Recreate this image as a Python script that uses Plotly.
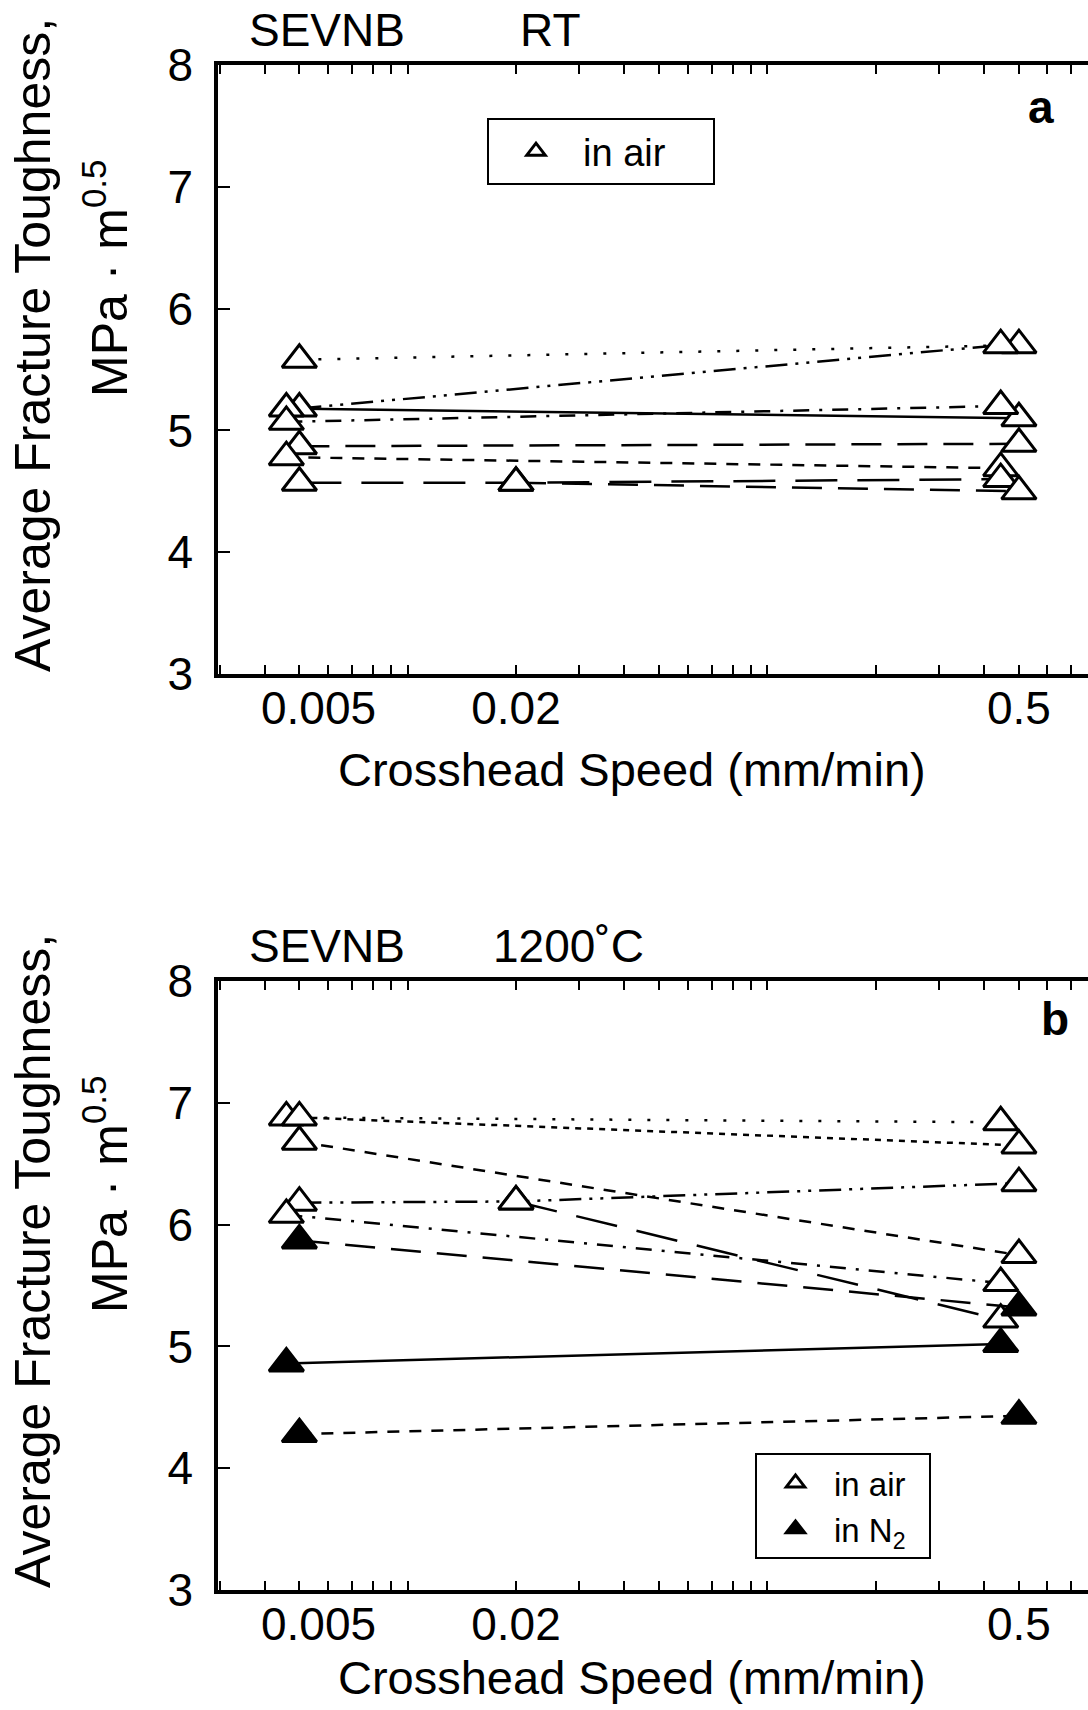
import math
import plotly.graph_objects as go

# ---------------- data ----------------
# Panel a : SEVNB, RT, in air (open triangles)
a1_x = [0.005, 0.5];            a1_y = [5.58, 5.70]
a2_x = [0.005, 0.445];          a2_y = [5.18, 5.70]
a3_x = [0.0046, 0.5];           a3_y = [5.18, 5.10]
a4_x = [0.0046, 0.445];         a4_y = [5.07, 5.20]
a5_x = [0.005, 0.5];            a5_y = [4.87, 4.89]
a6_x = [0.0046, 0.445];         a6_y = [4.78, 4.69]
a7_x = [0.005, 0.02, 0.445];    a7_y = [4.57, 4.57, 4.60]
a8_x = [0.02, 0.5];             a8_y = [4.57, 4.50]

# Panel b : SEVNB, 1200 C, in air (open) and in N2 (filled)
b1_x = [0.0046, 0.445];         b1_y = [6.88, 6.84]
b2_x = [0.005, 0.5];            b2_y = [6.88, 6.65]
b3_x = [0.005, 0.5];            b3_y = [6.68, 5.75]
b4_x = [0.005, 0.02, 0.5];      b4_y = [6.18, 6.19, 6.34]
b5_x = [0.02, 0.445];           b5_y = [6.19, 5.22]
b6_x = [0.0046, 0.445];         b6_y = [6.08, 5.52]
b7_x = [0.005, 0.5];            b7_y = [5.87, 5.32]   # N2
b8_x = [0.0046, 0.445];         b8_y = [4.86, 5.02]   # N2
b9_x = [0.005, 0.5];            b9_y = [4.28, 4.43]   # N2

x_tick_vals = [0.005, 0.02, 0.5]
x_tick_text = ["\u00a0\u00a0\u00a00.005", "0.02", "0.5"]
x_major_vals = [0.01, 0.1, 1.0]
y_tick_vals = [3, 4, 5, 6, 7, 8]

# ---------------- styling ----------------
DOT = "3px,16px"
DDD = "22px,8px,3px,8px,3px,8px"
DD = "16px,10px,3px,10px"
SHORT = "12px,10px"
LONG = "30px,16px"
XLONG = "42px,20px"

series_a = [
    (a1_x, a1_y, DOT, "air"), (a2_x, a2_y, DDD, "air"), (a3_x, a3_y, "solid", "air"),
    (a4_x, a4_y, DD, "air"), (a5_x, a5_y, LONG, "air"), (a6_x, a6_y, SHORT, "air"),
    (a7_x, a7_y, XLONG, "air"), (a8_x, a8_y, LONG, "air"),
]
series_b = [
    (b1_x, b1_y, DOT, "air"), (b2_x, b2_y, "6px,6px", "air"), (b3_x, b3_y, SHORT, "air"),
    (b4_x, b4_y, DDD, "air"), (b5_x, b5_y, XLONG, "air"), (b6_x, b6_y, DD, "air"),
    (b7_x, b7_y, LONG, "n2"), (b8_x, b8_y, "solid", "n2"), (b9_x, b9_y, SHORT, "n2"),
]

FONT = "Liberation Sans, Arial, Helvetica, sans-serif"
MSIZE = 30


def marker_for(kind):
    if kind == "air":
        return dict(symbol="triangle-up", size=MSIZE, color="white",
                    line=dict(color="black", width=3))
    return dict(symbol="triangle-up", size=MSIZE, color="black",
                line=dict(color="black", width=3))


fig = go.Figure()

for xa, ya, series in (("x", "y", series_a), ("x2", "y2", series_b)):
    for xs, ys, dash, kind in series:
        fig.add_trace(go.Scatter(x=xs, y=ys, mode="lines", xaxis=xa, yaxis=ya,
                                 line=dict(color="black", width=2.5, dash=dash),
                                 showlegend=False, hoverinfo="skip"))
    for xs, ys, dash, kind in series:
        fig.add_trace(go.Scatter(x=xs, y=ys, mode="markers", xaxis=xa, yaxis=ya,
                                 marker=marker_for(kind), showlegend=False))

# legend entries
fig.add_trace(go.Scatter(x=[None], y=[None], mode="markers", name="in air\u00a0\u00a0\u00a0\u00a0",
                         marker=marker_for("air"), legend="legend", xaxis="x", yaxis="y"))
fig.add_trace(go.Scatter(x=[None], y=[None], mode="markers", name="in air\u00a0\u00a0",
                         marker=marker_for("air"), legend="legend2", xaxis="x2", yaxis="y2"))
fig.add_trace(go.Scatter(x=[None], y=[None], mode="markers", name="in N<sub>2</sub>",
                         marker=marker_for("n2"), legend="legend2", xaxis="x2", yaxis="y2"))

W, H = 1088, 1710
x_left = 218 / W
xr = [math.log10(0.00297), math.log10(0.778)]
minor_vals = [m * 10 ** e for e in (-3, -2, -1, 0) for m in range(1, 10)]

dom_a = [(H - 674) / H, (H - 65) / H]
dom_b = [(H - 1590) / H, (H - 981) / H]


def xaxis_main(anchor):
    return dict(type="log", range=xr, domain=[x_left, 1.0], anchor=anchor, automargin=False,
                showline=True, linecolor="black", linewidth=3.5, mirror="ticks",
                ticks="inside", ticklen=9, tickwidth=1.5, tickcolor="black",
                tickvals=x_tick_vals, ticktext=x_tick_text, ticklabelstandoff=-9,
                tickfont=dict(size=46, color="black", family=FONT),
                minor=dict(ticks="inside", ticklen=9, tickwidth=1.5, tickcolor="black",
                           tickvals=minor_vals, showgrid=False),
                showgrid=False, zeroline=False)


def xaxis_major(over, anchor):
    return dict(type="log", range=xr, overlaying=over, anchor=anchor, matches=over,
                automargin=False, showline=False, mirror="ticks", ticks="inside",
                ticklen=20, tickwidth=2, tickcolor="black", tickvals=x_major_vals,
                showticklabels=False, showgrid=False, zeroline=False)


def yaxis_main(anchor, dom):
    return dict(range=[3, 8], domain=dom, anchor=anchor, tickvals=y_tick_vals, automargin=False,
                showline=True, linecolor="black", linewidth=3.5, mirror=False,
                ticks="inside", ticklen=12, tickwidth=2, tickcolor="black",
                tickfont=dict(size=46, color="black", family=FONT),
                ticklabelstandoff=12, showgrid=False, zeroline=False)


def yaxis_right(over, anchor):
    return dict(range=[3, 8], overlaying=over, anchor=anchor, matches=over, side="right",
                automargin=False, tickvals=y_tick_vals, showline=False,
                ticks="inside", ticklen=12, tickwidth=2, tickcolor="black",
                showticklabels=False, showgrid=False, zeroline=False)


fig.update_layout(
    width=W, height=H, margin=dict(l=0, r=0, t=0, b=0, autoexpand=False),
    paper_bgcolor="white", plot_bgcolor="white",
    font=dict(family=FONT, color="black"),
    xaxis=xaxis_main("y"), yaxis=yaxis_main("x", dom_a),
    xaxis2=xaxis_main("y2"), yaxis2=yaxis_main("x2", dom_b),
    xaxis3=xaxis_major("x", "y"), xaxis4=xaxis_major("x2", "y2"),
    yaxis3=yaxis_right("y", "x"), yaxis4=yaxis_right("y2", "x2"),
    legend=dict(x=487 / W, y=1 - 118 / H, xanchor="left", yanchor="top",
                bordercolor="black", borderwidth=2, bgcolor="white", itemwidth=84,
                font=dict(size=38, color="black", family=FONT)),
    legend2=dict(x=755 / W, y=1 - 1453 / H, xanchor="left", yanchor="top",
                 bordercolor="black", borderwidth=2, bgcolor="white", itemwidth=67,
                 font=dict(size=33, color="black", family=FONT)),
)


def ann(text, x, y, size=46, xanchor="center", angle=0, bold=False):
    fig.add_annotation(text=f"<b>{text}</b>" if bold else text, x=x / W, y=1 - y / H,
                       xref="paper", yref="paper", xanchor=xanchor, yanchor="middle",
                       showarrow=False, textangle=angle,
                       font=dict(size=size, color="black", family=FONT))


for off, cond in ((0, "RT"), (916, "1200˚C")):
    ann("SEVNB", 247, 30 + off, xanchor="left")
    ann(cond, 518 if off == 0 else 491, 30 + off, xanchor="left")
    ann("Average Fracture Toughness,", 33, 345 + off, size=50, angle=-90)
    ann("MPa · m<sup>0.5</sup>", 106, 278 + off, size=50, angle=-90)
ann("Crosshead Speed (mm/min)", 632, 770, size=47)
ann("Crosshead Speed (mm/min)", 632, 1677, size=47)
ann("a", 1041, 107, bold=True)
ann("b", 1055, 1019, bold=True)

fig.write_html("out.html")
